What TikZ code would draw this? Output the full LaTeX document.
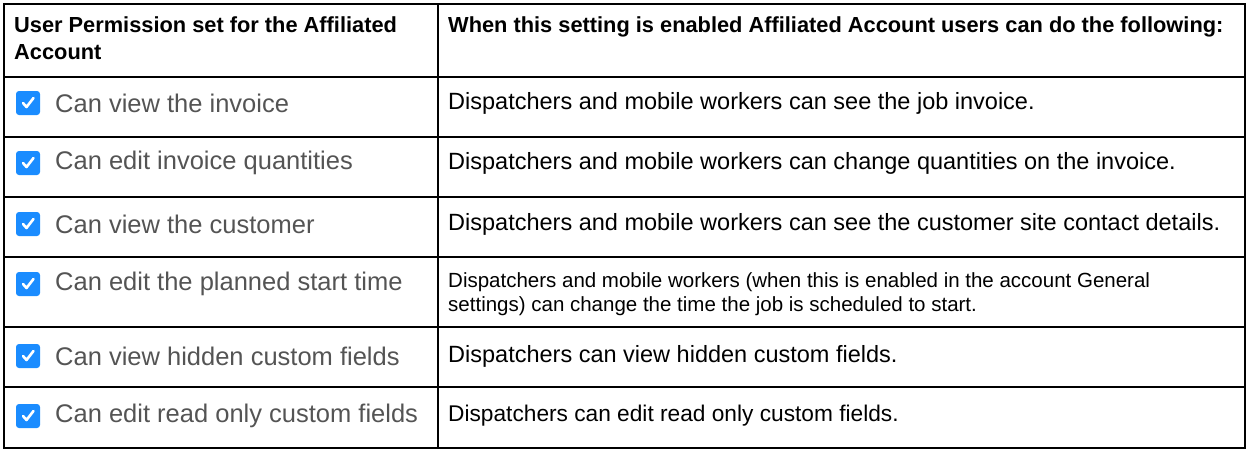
\documentclass[tikz,border=0pt]{standalone}
\usepackage{fontspec}
\setmainfont{Liberation Sans}
\begin{document}
\begin{tikzpicture}[x=1pt,y=-1pt,
  grid/.style={line width=1.8pt,black},
  perm/.style={anchor=west,inner sep=0pt,text=black!67,font=\fontsize{25.5}{30}\selectfont},
  desc/.style={anchor=west,inner sep=0pt,align=left,font=\fontsize{23.5}{25}\selectfont},
  head/.style={anchor=north west,inner sep=0pt,align=left,font=\bfseries\fontsize{21.8}{27}\selectfont},
  cbox/.style={draw=none,rounded corners=3pt,minimum size=24pt,inner sep=0pt}]
\useasboundingbox (0,0) rectangle (1249,453);
\definecolor{cb}{HTML}{1A8CFF}
\draw[grid] (4,4) rectangle (1245,448);
\draw[grid] (438,4) -- (438,448);
\foreach \y in {77,137,197,257,327,387} \draw[grid] (4,\y) -- (1245,\y);
\node[head] (h1) at (14,17) {User Permission set for the Affiliated\\Account};
\node[head] (h2) at (448,17) {When this setting is enabled Affiliated Account users can do the following:};
\foreach \n/\y/\p/\d/\fs in {
 1/103/Can view the invoice/Dispatchers and mobile workers can see the job invoice./23.5,
 2/163/Can edit invoice quantities/Dispatchers and mobile workers can change quantities on the invoice./23.5,
 3/224/Can view the customer/Dispatchers and mobile workers can see the customer site contact details./23.5,
 5/356/Can view hidden custom fields/Dispatchers can view hidden custom fields./23.5,
 6/416/Can edit read only custom fields/Dispatchers can edit read only custom fields./22.7}{
 \node[cbox,fill=cb] (c\n) at (28,\y) {};
 \draw[white,line width=2.6pt,line cap=round,line join=round] ([shift={(-5,0)}]c\n.center) -- ([shift={(-1.5,4)}]c\n.center) -- ([shift={(5.5,-5)}]c\n.center);
 \node[perm] (p\n) at (55,\y) {\p};
 \node[desc,font=\fontsize{\fs}{25}\selectfont] (d\n) at (448,\y) {\d};
}
\node[cbox,fill=cb] (c4) at (28,284) {};
\draw[white,line width=2.6pt,line cap=round,line join=round] ([shift={(-5,0)}]c4.center) -- ([shift={(-1.5,4)}]c4.center) -- ([shift={(5.5,-5)}]c4.center);
\node[perm] (p4) at (55,284) {Can edit the planned start time};
\node[desc,font=\fontsize{20.5}{24}\selectfont] (d4) at (448,294) {Dispatchers and mobile workers (when this is enabled in the account General\\settings) can change the time the job is scheduled to start.};
\end{tikzpicture}
\end{document}
